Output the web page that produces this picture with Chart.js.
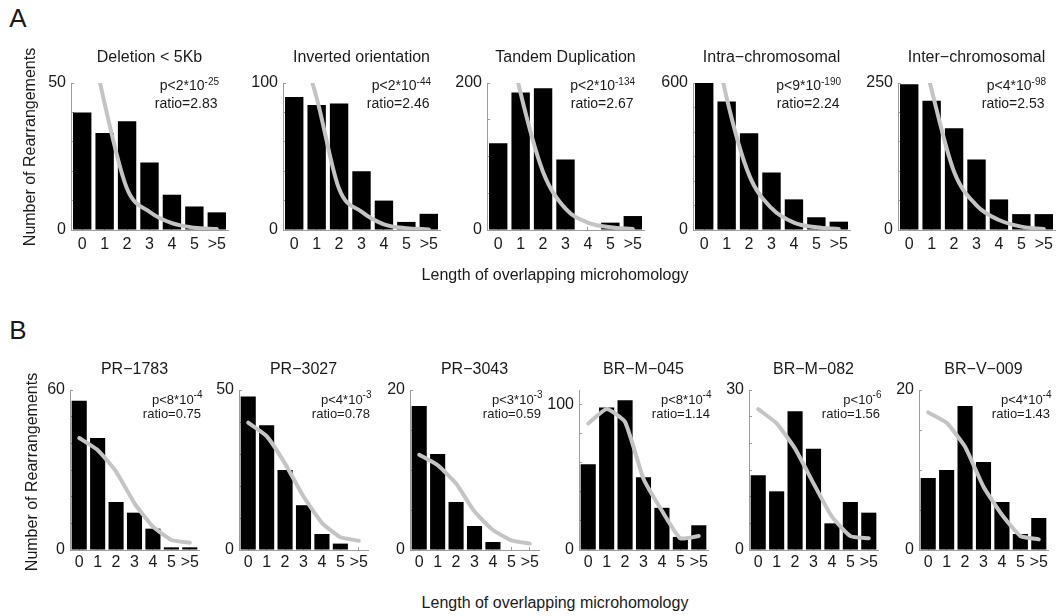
<!DOCTYPE html>
<html><head><meta charset="utf-8">
<script src="https://cdn.jsdelivr.net/npm/chart.js@4.4.1/dist/chart.umd.min.js"></script>
<style>
html,body{margin:0;padding:0;background:#fff;}
#root{position:relative;width:1059px;height:616px;overflow:hidden;font-family:"Liberation Sans",Arial,sans-serif;color:#1a1a1a;}
.box{position:absolute;}
.lbl{position:absolute;white-space:nowrap;line-height:1;transform:translate(-50%,-50%);}
.rot{transform:translate(-50%,-50%) rotate(-90deg);}
</style></head><body><div id="root"></div>
<script>
// ---------- data ----------
const categories = ['0','1','2','3','4','5','>5'];

// Panel A
const delBars  = [40, 33, 37, 23, 12, 8, 6];
const delFit   = [80, 43, 14, 6.2, 2.3, 0.8, 0.3];
const invBars  = [90.5, 85, 86, 40, 20, 5.5, 11];
const invFit   = [140, 90, 28, 12.5, 3.9, 1.2, 0.4];
const tanBars  = [118, 187, 193, 96, 0, 10, 19];
const tanFit   = [330, 186, 79, 29, 10, 3.6, 1.4];
const intraBars = [600, 525, 395, 235, 125, 52, 34];
const intraFit  = [1000, 540, 225, 89, 30, 11, 4];
const interBars = [248, 220, 173, 120, 52, 27, 27];
const interFit  = [400, 238, 99, 42, 17, 5.7, 1.7];

// Panel B
const pr1783Bars = [56, 42, 18, 14, 8, 1, 1];
const pr1783Fit  = [42, 37.5, 29.4, 17.5, 8.75, 3.75, 2.75];
const pr3027Bars = [48, 39, 25, 14, 5, 2, 0];
const pr3027Fit  = [39.8, 35.6, 27, 16.7, 8.5, 4, 2.9];
const pr3043Bars = [18, 12, 6, 3, 1, 0, 0];
const pr3043Fit  = [11.9, 10.6, 8.3, 4.8, 2.5, 1.2, 0.8];
const brm045Bars = [59, 98, 103, 50, 29, 9, 17];
const brm045Fit  = [87, 97, 88, 49, 27, 8, 9.6];
const brm082Bars = [14, 11, 26, 19, 5, 9, 7];
const brm082Fit  = [26.4, 23.75, 19, 12.5, 6.25, 2.6, 2.2];
const brv009Bars = [9, 10, 18, 11, 6, 2, 4];
const brv009Fit  = [17.2, 15.9, 12.9, 7.9, 4.4, 1.75, 1.33];

// y-axis tick marks, labelled ticks and axis maxima
const delTicks = [0,10,20,30,40,50],        delLabels = [0,50],   delMax = 50;
const invTicks = [0,20,40,60,80,100],       invLabels = [0,100],  invMax = 100;
const tanTicks = [0,50,100,150,200],        tanLabels = [0,200],  tanMax = 200;
const intraTicks = [0,100,200,300,400,500,600], intraLabels = [0,600], intraMax = 600;
const interTicks = [0,50,100,150,200,250],  interLabels = [0,250], interMax = 250;
const pr1783Ticks = [0,10,20,30,40,50,60],  pr1783Labels = [0,60], pr1783Max = 60;
const pr3027Ticks = [0,10,20,30,40,50],     pr3027Labels = [0,50], pr3027Max = 50;
const pr3043Ticks = [0,5,10,15,20],         pr3043Labels = [0,20], pr3043Max = 20;
const brm045Ticks = [0,20,40,60,80,100],    brm045Labels = [0,100], brm045Max = 110;
const brm082Ticks = [0,5,10,15,20,25,30],   brm082Labels = [0,30], brm082Max = 30;
const brv009Ticks = [0,5,10,15,20],         brv009Labels = [0,20], brv009Max = 20;

// titles and annotations
const titlesA = ['Deletion < 5Kb','Inverted orientation','Tandem Duplication','Intra\u2212chromosomal','Inter\u2212chromosomal'];
const titlesB = ['PR\u22121783','PR\u22123027','PR\u22123043','BR\u2212M\u2212045','BR\u2212M\u2212082','BR\u2212V\u2212009'];
const pBaseA = ['p<2*10','p<2*10','p<2*10','p<9*10','p<4*10'];
const pExpA  = ['-25','-44','-134','-190','-98'];
const ratioA = ['ratio=2.83','ratio=2.46','ratio=2.67','ratio=2.24','ratio=2.53'];
const pBaseB = ['p<8*10','p<4*10','p<3*10','p<8*10','p<10','p<4*10'];
const pExpB  = ['-4','-3','-3','-4','-6','-4'];
const ratioB = ['ratio=0.75','ratio=0.78','ratio=0.59','ratio=1.14','ratio=1.56','ratio=1.43'];
const xTitle = 'Length of overlapping microhomology';
const yTitle = 'Number of Rearrangements';

// ---------- layout ----------
const FONT = "'Liberation Sans', Arial, sans-serif";
const INK = '#1a1a1a';
const AXIS = '#9c9c9c';
const FITC = '#c4c4c4';
const root = document.getElementById('root');

const rowA = {lefts:[71,283,487,693,898], w:157, top:83, bottom:230, ctop:40, titleY:58, xlabY:245,
              annDx:-9, pDy:3.5, rDy:21, annFs:14, supFs:10, supRaise:4, monotone:true};
const rowB = {lefts:[70,239,410,579,749,919], w:129, top:390, bottom:550, ctop:345, titleY:369.5, xlabY:563,
              annDx:3.5, pDy:10, rDy:24, annFs:13, supFs:10, supRaise:5, monotone:false};

const panelsA = [
  {bars:delBars, fit:delFit, ticks:delTicks, labels:delLabels, max:delMax},
  {bars:invBars, fit:invFit, ticks:invTicks, labels:invLabels, max:invMax},
  {bars:tanBars, fit:tanFit, ticks:tanTicks, labels:tanLabels, max:tanMax},
  {bars:intraBars, fit:intraFit, ticks:intraTicks, labels:intraLabels, max:intraMax},
  {bars:interBars, fit:interFit, ticks:interTicks, labels:interLabels, max:interMax}
];
const panelsB = [
  {bars:pr1783Bars, fit:pr1783Fit, ticks:pr1783Ticks, labels:pr1783Labels, max:pr1783Max},
  {bars:pr3027Bars, fit:pr3027Fit, ticks:pr3027Ticks, labels:pr3027Labels, max:pr3027Max},
  {bars:pr3043Bars, fit:pr3043Fit, ticks:pr3043Ticks, labels:pr3043Labels, max:pr3043Max},
  {bars:brm045Bars, fit:brm045Fit, ticks:brm045Ticks, labels:brm045Labels, max:brm045Max},
  {bars:brm082Bars, fit:brm082Fit, ticks:brm082Ticks, labels:brm082Labels, max:brm082Max},
  {bars:brv009Bars, fit:brv009Fit, ticks:brv009Ticks, labels:brv009Labels, max:brv009Max}
];

const annotPlugin = {
  id: 'annot',
  afterDatasetsDraw(chart, args, o) {
    const {ctx, chartArea} = chart;
    const x = chartArea.right + o.dx;
    ctx.save();
    ctx.fillStyle = INK;
    ctx.textAlign = 'right';
    ctx.textBaseline = 'middle';
    ctx.font = o.supFs + 'px ' + FONT;
    const sw = ctx.measureText(o.exp).width;
    ctx.fillText(o.exp, x, chartArea.top + o.pDy - o.raise);
    ctx.font = o.fs + 'px ' + FONT;
    ctx.fillText(o.base, x - sw, chartArea.top + o.pDy);
    ctx.fillText(o.ratio, x - 1.5, chartArea.top + o.rDy);
    ctx.restore();
  }
};

function addLabel(text, x, y, size, rot) {
  const d = document.createElement('div');
  d.className = 'lbl' + (rot ? ' rot' : '');
  d.style.left = x + 'px'; d.style.top = y + 'px';
  d.style.fontSize = size + 'px';
  d.textContent = text;
  root.appendChild(d);
}

function makePanel(p, row, i, title, base, exp, ratio) {
  const YW = 50, RP = 10, XH = 40, TL = -3;
  const left = row.lefts[i];
  const cw = YW + row.w + RP;
  const ch = (row.bottom - row.ctop) + XH;
  const div = document.createElement('div');
  div.className = 'box';
  div.style.left = (left - YW) + 'px';
  div.style.top = row.ctop + 'px';
  div.style.width = cw + 'px';
  div.style.height = ch + 'px';
  const cv = document.createElement('canvas');
  cv.width = cw; cv.height = ch;
  div.appendChild(cv);
  root.appendChild(div);
  const tpTop = row.titleY - row.ctop - 9.6;
  const tpBot = row.top - row.ctop - tpTop - 19.2;
  const gridOpts = {drawOnChartArea:false, drawTicks:true, tickLength:TL, color:AXIS, lineWidth:1};
  const lineDs = {type:'line', data:p.fit, borderColor:FITC, borderWidth:4, pointRadius:0,
                  pointHoverRadius:0, order:0, borderCapStyle:'round', borderJoinStyle:'round'};
  if (row.monotone) lineDs.cubicInterpolationMode = 'monotone'; else lineDs.tension = 0.15;
  new Chart(cv, {
    data: {
      labels: categories,
      datasets: [
        lineDs,
        {type:'bar', data:p.bars, backgroundColor:'#000000', borderWidth:0,
         barPercentage:0.82, categoryPercentage:1.0, order:1}
      ]
    },
    options: {
      responsive:false, animation:false, devicePixelRatio:1,
      layout:{padding:{left:0, right:RP, top:0, bottom:0}},
      plugins:{
        legend:{display:false}, tooltip:{enabled:false},
        title:{display:true, text:title, fullSize:false, color:INK,
               font:{family:FONT, size:16, weight:'normal', lineHeight:1.2},
               padding:{top:tpTop, bottom:tpBot}},
        annot:{dx:row.annDx, pDy:row.pDy, rDy:row.rDy, fs:row.annFs, supFs:row.supFs, raise:row.supRaise,
               base:base, exp:exp, ratio:ratio}
      },
      scales:{
        x:{type:'category', offset:true,
           grid:Object.assign({offset:false}, gridOpts),
           border:{display:true, color:AXIS, width:1},
           ticks:{autoSkip:false, maxRotation:0, minRotation:0, padding:row.xlabY - row.bottom - 9.6 - TL,
                  color:INK, font:{family:FONT, size:16}},
           afterFit:(s)=>{ s.height = XH; }},
        y:{type:'linear', min:0, max:p.max,
           grid:gridOpts,
           border:{display:true, color:AXIS, width:1},
           ticks:{padding:8, color:INK, font:{family:FONT, size:16},
                  callback:(v)=> p.labels.includes(v) ? String(v) : ''},
           afterBuildTicks:(s)=>{ s.ticks = p.ticks.map(v=>({value:v})); },
           afterFit:(s)=>{ s.width = YW; }}
      }
    },
    plugins:[annotPlugin]
  });
}

panelsA.forEach((p,i)=>makePanel(p, rowA, i, titlesA[i], pBaseA[i], pExpA[i], ratioA[i]));
panelsB.forEach((p,i)=>makePanel(p, rowB, i, titlesB[i], pBaseB[i], pExpB[i], ratioB[i]));

addLabel('A', 18, 18, 26, false);
addLabel('B', 18, 330, 26, false);
addLabel(yTitle, 30, 147, 16, true);
addLabel(yTitle, 32, 472, 16, true);
addLabel(xTitle, 555, 275, 16, false);
addLabel(xTitle, 555, 603, 16, false);
</script></body></html>
